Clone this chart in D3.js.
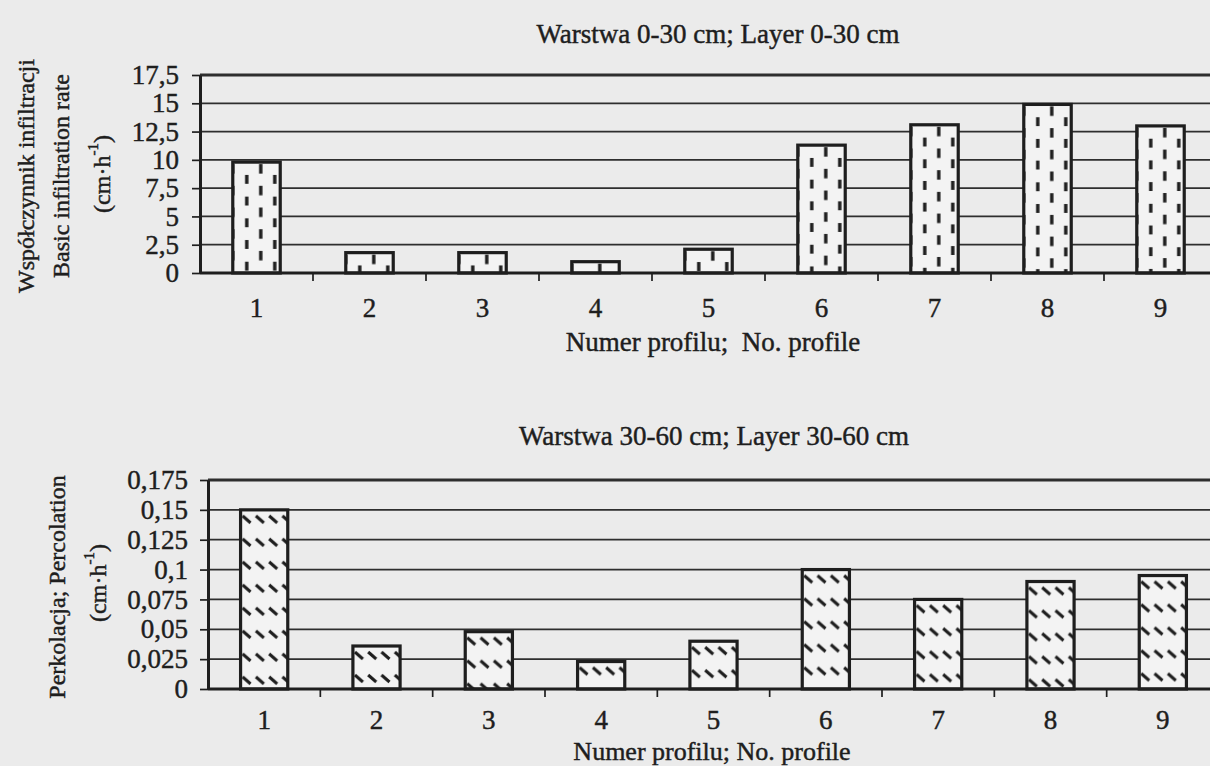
<!DOCTYPE html>
<html><head><meta charset="utf-8">
<script src="https://cdn.jsdelivr.net/npm/d3@7"></script>
<style>
body{margin:0;background:#ebebeb;}
svg{display:block;}
text{font-family:"Liberation Serif","Times New Roman",serif;fill:#1e1e1e;stroke:#1e1e1e;stroke-width:0.45px;}
</style>
</head><body>
<svg id="c" width="1210" height="766"></svg>
<script>
const categories = ["1","2","3","4","5","6","7","8","9"];
const infiltration = [9.8, 1.8, 1.8, 1.0, 2.1, 11.3, 13.1, 14.9, 13.0];
const percolation = [0.15, 0.036, 0.048, 0.023, 0.04, 0.1, 0.075, 0.09, 0.095];
const topTicks = [0, 2.5, 5, 7.5, 10, 12.5, 15, 17.5];
const bottomTicks = [0, 0.025, 0.05, 0.075, 0.1, 0.125, 0.15, 0.175];
const panelTitles = ["Warstwa 0-30 cm; Layer 0-30 cm", "Warstwa 30-60 cm; Layer 30-60 cm"];
const xTitles = ["Numer profilu;  No. profile", "Numer profilu; No. profile"];
const yTitlesTop = ["Współczynnik infiltracji", "Basic infiltration rate"];
const yTitlesBottom = ["Perkolacja; Percolation"];

const svg = d3.select("#c");
svg.append("rect").attr("width",1210).attr("height",766).attr("fill","#ebebeb");
const defs = svg.append("defs");
const ink = "#1e1e1e";
const fmt = d => String(d).replace(".", ",");

function unitLabel(g, x, y) {
  const t = g.append("text").attr("transform", `translate(${x},${y}) rotate(-90)`)
    .attr("text-anchor","middle").attr("dominant-baseline","central").attr("font-size",24);
  t.append("tspan").text("(cm·h");
  t.append("tspan").attr("font-size",15).attr("dy",-9).text("-1");
  t.append("tspan").attr("dy",9).text(")");
}

function panel(cfg) {
  const g = svg.append("g");
  const x = d3.scaleBand().domain(categories).range([cfg.left, cfg.right]).paddingInner(0.58).paddingOuter(0.29);
  const y = d3.scaleLinear().domain([0, cfg.max]).range([cfg.bottom, cfg.top]);
  const bw = x.bandwidth(), step = x.step();

  // gridlines
  g.selectAll("line.grid").data(cfg.ticks.filter(t => t > 0)).join("line")
    .attr("x1", cfg.left).attr("x2", cfg.right)
    .attr("y1", d => y(d)).attr("y2", d => y(d))
    .attr("stroke", "#2e2e2e").attr("stroke-width", d => d === cfg.max ? 3 : 1.7);

  // patterns per bar
  cfg.values.forEach((v, i) => {
    const id = `${cfg.id}-p${i}`;
    const p = defs.append("pattern").attr("id", id).attr("patternUnits","userSpaceOnUse")
      .attr("x", x(categories[i])).attr("y", y(v))
      .attr("width", cfg.kind === "dash" ? 28 : 13.3).attr("height", cfg.kind === "dash" ? 21.7 : 23);
    p.append("rect").attr("width", 30).attr("height", 30).attr("fill", "#f3f3f3");
    if (cfg.kind === "dash") {
      p.append("rect").attr("x",-1.7).attr("y",2).attr("width",3.4).attr("height",9.5).attr("fill",ink);
      p.append("rect").attr("x",26.3).attr("y",2).attr("width",3.4).attr("height",9.5).attr("fill",ink);
      p.append("rect").attr("x",12.3).attr("y",12.8).attr("width",3.4).attr("height",9.5).attr("fill",ink);
    } else {
      p.append("line").attr("x1",2).attr("y1",6).attr("x2",10).attr("y2",13)
        .attr("stroke",ink).attr("stroke-width",3);
    }
  });

  // bars
  g.selectAll("rect.bar").data(cfg.values).join("rect")
    .attr("x", (d, i) => x(categories[i])).attr("y", d => y(d))
    .attr("width", bw).attr("height", d => y(0) - y(d))
    .attr("fill", (d, i) => `url(#${cfg.id}-p${i})`)
    .attr("stroke", ink).attr("stroke-width", 3.2);

  // y axis
  const ya = g.append("g").attr("transform", `translate(${cfg.left},0)`)
    .call(d3.axisLeft(y).tickValues(cfg.ticks).tickSize(8).tickSizeOuter(0).tickPadding(cfg.tickPad).tickFormat(fmt));
  ya.select(".domain").attr("stroke", ink).attr("stroke-width", 3);
  ya.selectAll(".tick line").attr("stroke", ink).attr("stroke-width", 1.7);
  ya.selectAll(".tick text").attr("font-size", 27).attr("font-family", '"Liberation Serif",serif').attr("fill", ink);

  // x axis baseline
  g.append("line").attr("x1", cfg.left).attr("x2", cfg.right).attr("y1", y(0)).attr("y2", y(0))
    .attr("stroke", ink).attr("stroke-width", 3);
  // boundary ticks
  g.selectAll("line.xt").data(categories).join("line")
    .attr("x1", d => x(d) + bw + (step - bw) / 2).attr("x2", d => x(d) + bw + (step - bw) / 2)
    .attr("y1", y(0)).attr("y2", y(0) + 8).attr("stroke", ink).attr("stroke-width", 1.7);
  // x labels
  const xa = g.append("g").attr("transform", `translate(0,${y(0)})`)
    .call(d3.axisBottom(x).tickSize(0).tickPadding(cfg.xPad));
  xa.select(".domain").remove();
  xa.selectAll(".tick text").attr("font-size", 27).attr("font-family", '"Liberation Serif",serif').attr("fill", ink);

  // titles
  g.append("text").attr("x", cfg.titleX).attr("y", cfg.titleY).attr("text-anchor","middle")
    .attr("font-size", 27).text(cfg.title);
  g.append("text").attr("x", cfg.xTitleX).attr("y", cfg.xTitleY).attr("text-anchor","middle")
    .attr("font-size", cfg.xTitleSize).style("white-space","pre").text(cfg.xTitle);
  cfg.yTitles.forEach((t, i) => {
    g.append("text").attr("transform", `translate(${cfg.yTitleX[i]},${cfg.yTitleY}) rotate(-90)`)
      .attr("text-anchor","middle").attr("dominant-baseline","central").attr("font-size",24).text(t);
  });
  unitLabel(g, cfg.unitX, cfg.unitY);
}

panel({id:"top", values: infiltration, ticks: topTicks, max: 17.5, kind: "dash",
  left: 200, right: 1217, top: 75, bottom: 273, tickPad: 13, xPad: 25,
  title: panelTitles[0], titleX: 718, titleY: 43,
  xTitle: xTitles[0], xTitleX: 713, xTitleY: 351, xTitleSize: 27,
  yTitles: yTitlesTop, yTitleX: [26, 61], yTitleY: 176, unitX: 102, unitY: 174});

panel({id:"bot", values: percolation, ticks: bottomTicks, max: 0.175, kind: "hatch",
  left: 208, right: 1219, top: 480, bottom: 689, tickPad: 12, xPad: 21,
  title: panelTitles[1], titleX: 714, titleY: 445,
  xTitle: xTitles[1], xTitleX: 712, xTitleY: 760, xTitleSize: 26,
  yTitles: yTitlesBottom, yTitleX: [57], yTitleY: 587, unitX: 98, unitY: 583});
</script>
</body></html>
